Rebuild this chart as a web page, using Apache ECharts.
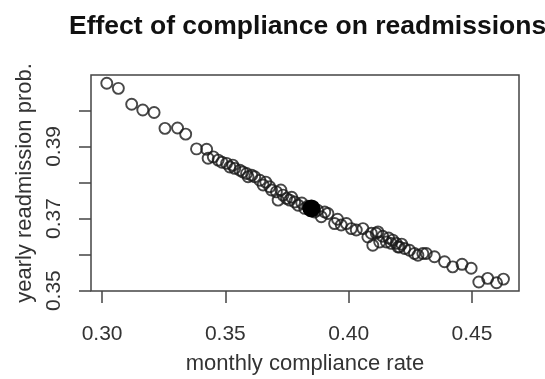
<!DOCTYPE html>
<html>
<head>
<meta charset="utf-8">
<script src="https://cdn.jsdelivr.net/npm/echarts@6/dist/echarts.min.js"></script>
<style>
  html, body { margin: 0; padding: 0; background: #fff; }
  #chart { width: 545px; height: 379px; }
</style>
</head>
<body>
<div id="chart"></div>
<script>
// values
const complianceRate = [
  0.3019, 0.3066, 0.3120, 0.3165, 0.3211, 0.3255, 0.3306, 0.3339, 0.3383, 0.3424,
  0.3430, 0.3451, 0.3471, 0.3486, 0.3505, 0.3518, 0.3530, 0.3538, 0.3559, 0.3571,
  0.3586, 0.3592, 0.3607, 0.3619, 0.3640, 0.3653, 0.3664, 0.3680, 0.3687, 0.3707,
  0.3714, 0.3725, 0.3734, 0.3748, 0.3761, 0.3769, 0.3781, 0.3795, 0.3810, 0.3822,
  0.3834, 0.3862, 0.3874, 0.3889, 0.3903, 0.3916, 0.3943, 0.3955, 0.3970, 0.3991,
  0.4011, 0.4031, 0.4058, 0.4078, 0.4092, 0.4098, 0.4112, 0.4119, 0.4126, 0.4138,
  0.4153, 0.4162, 0.4173, 0.4179, 0.4193, 0.4200, 0.4206, 0.4215, 0.4227, 0.4247,
  0.4267, 0.4281, 0.4301, 0.4315, 0.4348, 0.4389, 0.4422, 0.4460, 0.4497, 0.4528,
  0.4564, 0.4600, 0.4628
]
const readmitProb = [
  0.4075, 0.4061, 0.4017, 0.4001, 0.3994, 0.3950, 0.3951, 0.3934, 0.3893, 0.3892,
  0.3867, 0.3871, 0.3862, 0.3856, 0.3853, 0.3843, 0.3848, 0.3839, 0.3834, 0.3829,
  0.3825, 0.3816, 0.3820, 0.3816, 0.3806, 0.3793, 0.3801, 0.3788, 0.3779, 0.3774,
  0.3751, 0.3779, 0.3765, 0.3756, 0.3751, 0.3759, 0.3746, 0.3737, 0.3743, 0.3728,
  0.3734, 0.3718, 0.3723, 0.3705, 0.3718, 0.3714, 0.3686, 0.3698, 0.3682, 0.3686,
  0.3672, 0.3668, 0.3672, 0.3649, 0.3659, 0.3626, 0.3659, 0.3663, 0.3635, 0.3651,
  0.3635, 0.3646, 0.3631, 0.3640, 0.3631, 0.3621, 0.3621, 0.3629, 0.3617, 0.3612,
  0.3603, 0.3598, 0.3603, 0.3603, 0.3594, 0.3580, 0.3566, 0.3573, 0.3562, 0.3524,
  0.3534, 0.3522, 0.3532
]
// the filled point
const currentRate = [0.3849]
const currentProb = [0.3728]

const xTicks = [0.30, 0.35, 0.40, 0.45]
const yTicks = [0.35, 0.36, 0.37, 0.38, 0.39, 0.40]
const yLabels = [0.35, 0.37, 0.39]

const font = "'Liberation Sans', Arial, sans-serif"
const chart = echarts.init(document.getElementById('chart'))

const option = {
  animation: false,
  backgroundColor: '#fff',
  title: {
    text: 'Effect of compliance on readmissions',
    left: 64,
    top: 8,
    textStyle: { fontFamily: font, fontSize: 26.5, fontWeight: 'bold', color: '#111' },
  },
  grid: {
    left: 91,
    right: 26,
    top: 75,
    bottom: 88,
    show: true,
    borderColor: '#444',
    borderWidth: 1.5,
    outerBoundsMode: 'none',
  },
  xAxis: {
    type: 'value',
    min: 0.2955,
    max: 0.4691,
    name: 'monthly compliance rate',
    nameLocation: 'middle',
    nameGap: 62,
    nameTextStyle: { fontFamily: font, fontSize: 22, color: '#333' },
    axisLine: { show: false },
    splitLine: { show: false },
    axisTick: {
      show: true,
      length: 12,
      customValues: xTicks,
      lineStyle: { color: '#444', width: 1.5 },
    },
    axisLabel: {
      customValues: xTicks,
      margin: 33,
      fontFamily: font,
      fontSize: 21,
      color: '#333',
      formatter: (v) => v.toFixed(2),
    },
  },
  yAxis: {
    type: 'value',
    min: 0.3499,
    max: 0.4098,
    name: 'yearly readmission prob.',
    nameLocation: 'middle',
    nameGap: 54,
    nameTextStyle: { fontFamily: font, fontSize: 22, color: '#333' },
    axisLine: { show: false },
    splitLine: { show: false },
    axisTick: {
      show: true,
      length: 12,
      customValues: yTicks,
      lineStyle: { color: '#444', width: 1.5 },
    },
    axisLabel: {
      customValues: yLabels,
      rotate: 90,
      margin: 26,
      fontFamily: font,
      fontSize: 21,
      color: '#333',
      formatter: (v) => v.toFixed(2),
    },
  },
  series: [
    {
      type: 'scatter',
      data: complianceRate.map((x, i) => [x, readmitProb[i]]),
      symbol: 'circle',
      symbolSize: 11,
      itemStyle: { color: 'rgba(0,0,0,0)', borderColor: '#1a1a1a', borderWidth: 1.9 },
      z: 2,
    },
    {
      type: 'scatter',
      data: currentRate.map((x, i) => [x, currentProb[i]]),
      symbol: 'circle',
      symbolSize: 18,
      itemStyle: { color: '#000', opacity: 1 },
      z: 10,
    },
  ],
}

chart.setOption(option)
</script>
</body>
</html>
